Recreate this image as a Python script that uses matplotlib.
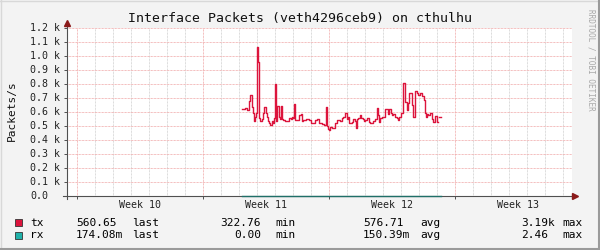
import numpy as np
import matplotlib
matplotlib.use('Agg')
import matplotlib.pyplot as plt
from matplotlib import transforms
from matplotlib.lines import Line2D

plt.rcParams['font.family'] = ['DejaVu Sans Mono']

title = 'Interface Packets (veth4296ceb9) on cthulhu'
ylabel = 'Packets/s'
watermark = 'RRDTOOL / TOBI OETIKER'

# x in days from the start of week 10
weeks = ['Week 10', 'Week 11', 'Week 12', 'Week 13']
week_starts = [0, 7, 14, 21]
y_ticks = [0, 100, 200, 300, 400, 500, 600, 700, 800, 900, 1000, 1100, 1200]
y_labels = ['0.0', '0.1 k', '0.2 k', '0.3 k', '0.4 k', '0.5 k', '0.6 k',
            '0.7 k', '0.8 k', '0.9 k', '1.0 k', '1.1 k', '1.2 k']

tx_days = [9.18, 9.33, 9.46, 9.57, 9.61, 9.71, 9.76, 9.79, 9.83, 9.91, 9.94,
           10.00, 10.07, 10.13, 10.17, 10.29, 10.35, 10.41, 10.48, 10.54, 10.59,
           10.68, 10.74, 10.82, 10.91, 10.96, 11.02, 11.07, 11.11, 11.22, 11.28,
           11.35, 11.41, 11.46, 11.56, 11.79, 11.89, 11.94, 12.02, 12.07, 12.13,
           12.29, 12.35, 12.43, 12.48, 12.57, 12.72, 12.91, 12.98, 13.13, 13.22,
           13.35, 13.43, 13.59, 13.72, 13.82, 13.87, 13.93, 14.00, 14.06, 14.15,
           14.33, 14.43, 14.61, 14.71, 14.79, 14.89, 14.98, 15.07, 15.13, 15.26,
           15.35, 15.44, 15.50, 15.54, 15.63, 15.72, 15.78, 15.87, 15.94, 16.00,
           16.13, 16.21, 16.28, 16.37, 16.46, 16.56, 16.65, 16.71, 16.76, 16.83,
           16.93, 17.02, 17.11, 17.21, 17.29, 17.35, 17.43, 17.48, 17.57, 17.67,
           17.76, 17.85, 17.91, 17.98, 18.13, 18.22, 18.32, 18.41, 18.46, 18.56,
           18.61, 18.65, 18.68, 18.78, 18.87, 18.96, 19.06, 19.15, 19.28, 19.33,
           19.39, 19.46, 19.52, 19.61, 19.71, 19.79, 19.89, 19.98, 20.02, 20.08,
           20.13, 20.20]
tx_vals = [619, 626, 612, 681, 719, 633, 615, 590, 538, 567, 590,
           1062, 960, 555, 538, 550, 590, 638, 590, 562, 538,
           519, 507, 538, 519, 555, 800, 538, 643, 562, 548,
           643, 550, 545, 538, 557, 550, 567, 557, 657, 545,
           545, 576, 586, 538, 543, 548, 543, 524, 524, 543,
           552, 519, 514, 507, 633, 500, 476, 469, 490, 486,
           519, 543, 538, 555, 562, 590, 548, 562, 519, 526,
           548, 538, 483, 548, 555, 579, 555, 548, 538, 543,
           555, 526, 521, 521, 538, 548, 626, 579, 531, 555,
           567, 562, 619, 619, 586, 619, 590, 579, 586, 562,
           555, 543, 562, 590, 810, 674, 614, 662, 733, 733,
           652, 590, 567, 752, 733, 721, 738, 714, 686, 590,
           567, 586, 579, 590, 548, 531, 571, 562, 531, np.nan,
           562, 562]

rx_days = [9.18, 11.0, 13.0, 15.0, 17.0, 19.0, 20.20]
rx_vals = [0.15, 0.16, 0.14, 0.15, 0.16, 0.15, 0.17]

tx_stats = ['560.65', '322.76', '576.71', '3.19k']
rx_stats = ['174.08m', '0.00', '150.39m', '2.46']

tx_color = '#DC143C'
rx_color = '#20B2AA'

W, H = 600, 250


def fx(x):
    return x / W


def fy(y):
    return 1 - y / H


fig = plt.figure(figsize=(6, 2.5), dpi=100, facecolor='#F3F3F3')

# outer shading
fig.add_artist(Line2D([0, 1], [fy(0.5), fy(0.5)], color='#D8D8D8', lw=1.0))
fig.add_artist(Line2D([fx(0.5), fx(0.5)], [0, 1], color='#D8D8D8', lw=1.0))
fig.add_artist(Line2D([0, 1], [fy(249), fy(249)], color='#9A9A9A', lw=1.5))
fig.add_artist(Line2D([fx(599), fx(599)], [0, 1], color='#9A9A9A', lw=1.5))

x0, x1 = 67, 572
y0, y1 = 196, 28
ax = fig.add_axes([fx(x0), fy(y0), (x1 - x0) / W, (y0 - y1) / H])
ax.set_facecolor('white')
xmin = (x0 - 77) / 18
xmax = (x1 - 77) / 18
ax.set_xlim(xmin, xmax)
ax.set_ylim(0, 1200)
for s in ax.spines.values():
    s.set_visible(False)

dots = (0, (0.72, 0.72))
for d in range(0, 28):
    if d in week_starts:
        continue
    ax.axvline(d, color='#D0D0D0', lw=0.72, linestyle=dots, zorder=1)
for d in week_starts:
    ax.axvline(d, color='#F0A8A8', lw=0.72, linestyle=dots, zorder=1)
for v in y_ticks[1:]:
    ax.axhline(v, color='#F0A8A8', lw=0.72, linestyle=dots, zorder=1)

ax.step(tx_days, tx_vals, where='post', color=tx_color, lw=1.0, zorder=3)

# axes with arrows
ax.plot([xmin - 4 / 18, xmax + 3 / 18], [0, 0], color='#505050', lw=0.8,
        clip_on=False, zorder=4)
ax.plot([xmin, xmin], [-3 * 100 / 14, 1200 + 5 * 100 / 14], color='#505050',
        lw=0.8, clip_on=False, zorder=4)
ax.plot(xmax + 3 / 18, 0, marker='>', color='#8B1A1A', ms=4, clip_on=False,
        zorder=5)
ax.plot(xmin, 1200 + 5 * 100 / 14, marker='^', color='#8B1A1A', ms=4,
        clip_on=False, zorder=5)

# rx sits right on the x axis
ax.step(rx_days, rx_vals, where='post', color='#1F6F68', lw=1.0, zorder=6,
        clip_on=False)

ax.set_xticks(week_starts)
ax.set_xticklabels([])
ax.set_yticks(y_ticks)
ax.set_yticklabels([])
ax.tick_params(axis='both', length=2.2, width=0.7, color='#505050')

# y labels, left aligned like rrdtool
tr = transforms.blended_transform_factory(fig.transFigure, ax.transData)
for v, lab in zip(y_ticks, y_labels):
    ax.text(fx(30), v, lab, transform=tr, ha='left', va='center',
            fontsize=7.2, color='#222222')

for d, lab in zip(week_starts, weeks):
    fig.text(fx(77 + 18 * (d + 3.5)), fy(205.5), lab, ha='center', va='center',
             fontsize=7.2, color='#222222')

fig.text(fx(300), fy(18.5), title, ha='center', va='center', fontsize=9.5,
         color='#111111')
fig.text(fx(12), fy(111), ylabel, ha='center', va='center', rotation=90,
         fontsize=8, color='#111111')
fig.text(fx(591), fy(60), watermark, ha='center', va='center', rotation=270,
         fontsize=5.5, color='#A8A8A8')

# legend
rows = [('tx', tx_color, tx_stats, 222.5), ('rx', rx_color, rx_stats, 235)]
for name, col, stats, yy in rows:
    fig.add_artist(plt.Rectangle((fx(15), fy(yy + 3.5)), 7 / W, 7 / H,
                                 facecolor=col, edgecolor='#333333', lw=0.6))
    fig.text(fx(30), fy(yy), name, ha='left', va='center', fontsize=8)
    fig.text(fx(76), fy(yy), stats[0], ha='left', va='center', fontsize=8)
    fig.text(fx(132), fy(yy), 'last', ha='left', va='center', fontsize=8)
    fig.text(fx(261), fy(yy), stats[1], ha='right', va='center', fontsize=8)
    fig.text(fx(275.5), fy(yy), 'min', ha='left', va='center', fontsize=8)
    fig.text(fx(363), fy(yy), stats[2], ha='left', va='center', fontsize=8)
    fig.text(fx(420), fy(yy), 'avg', ha='left', va='center', fontsize=8)
    fig.text(fx(521), fy(yy), stats[3], ha='left', va='center', fontsize=8)
    fig.text(fx(562.5), fy(yy), 'max', ha='left', va='center', fontsize=8)

fig.savefig('out.png', dpi=100, facecolor=fig.get_facecolor())
